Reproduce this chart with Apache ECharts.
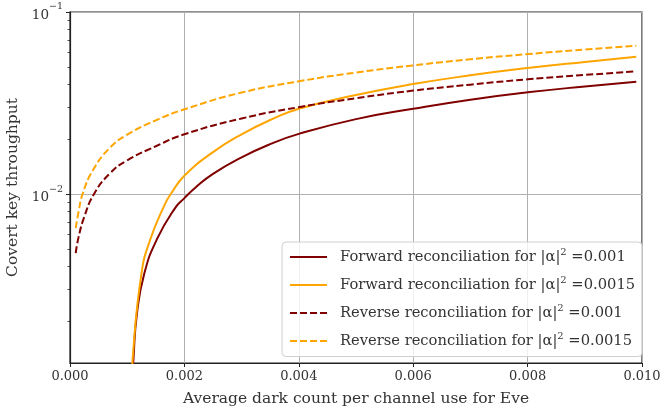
<!DOCTYPE html>
<html><head><meta charset="utf-8">
<script src="https://cdn.jsdelivr.net/npm/echarts@6/dist/echarts.min.js"></script>
<style>html,body{margin:0;padding:0;background:#fff}#c{width:661px;height:412px}</style>
</head><body><div id="c"></div>
<script>
// ---- data ----
const seriesNames = [
  'Forward reconciliation for |α|^2 =0.001',
  'Forward reconciliation for |α|^2 =0.0015',
  'Reverse reconciliation for |α|^2 =0.001',
  'Reverse reconciliation for |α|^2 =0.0015'
];
const legendPrefix = ['Forward reconciliation for |α|', 'Forward reconciliation for |α|', 'Reverse reconciliation for |α|', 'Reverse reconciliation for |α|'];
const legendSup = ['2', '2', '2', '2'];
const legendSuffix = [' =0.001', ' =0.0015', ' =0.001', ' =0.0015'];

const fwdLowX = [0.00109, 0.00111, 0.00117, 0.00130, 0.00152, 0.00184, 0.0020, 0.0022, 0.0025, 0.0030, 0.0035, 0.0040, 0.0050, 0.0060, 0.0070, 0.0080, 0.0090, 0.0099];
const fwdLowY = [0.0009, 0.00125, 0.0022, 0.00367, 0.00565, 0.0084, 0.0095, 0.0109, 0.0129, 0.0159, 0.0188, 0.0214, 0.0258, 0.0294, 0.0330, 0.0362, 0.0390, 0.0414];

const fwdHighX = [0.00108, 0.00110, 0.00125, 0.00140, 0.00166, 0.00177, 0.0020, 0.0025, 0.0030, 0.0035, 0.0040, 0.0050, 0.0060, 0.0070, 0.0080, 0.0090, 0.0099];
const fwdHighY = [0.0009, 0.0013, 0.00367, 0.00559, 0.0088, 0.0101, 0.0126, 0.0170, 0.0213, 0.0255, 0.0294, 0.0350, 0.0402, 0.0449, 0.0492, 0.0532, 0.0568];

const revLowX = [0.0001, 0.00015, 0.00025, 0.00042, 0.0007, 0.0010, 0.0015, 0.0020, 0.0030, 0.0040, 0.0050, 0.0060, 0.0070, 0.0080, 0.0090, 0.0099];
const revLowY = [0.00474, 0.0058, 0.0075, 0.0100, 0.0130, 0.0153, 0.0183, 0.0213, 0.0260, 0.0300, 0.0336, 0.0370, 0.0399, 0.0427, 0.0451, 0.0472];

const revHighX = [0.0001, 0.00015, 0.00022, 0.0004, 0.0007, 0.0010, 0.0015, 0.0020, 0.0030, 0.0040, 0.0050, 0.0060, 0.0070, 0.0080, 0.0090, 0.0099];
const revHighY = [0.0065, 0.0080, 0.0100, 0.0135, 0.0180, 0.0212, 0.0254, 0.0292, 0.0361, 0.0416, 0.0465, 0.0509, 0.0550, 0.0587, 0.0622, 0.0653];

const xTicks = [0, 0.002, 0.004, 0.006, 0.008, 0.010];
const yMajor = [0.01, 0.1];
const yMinor = [0.002, 0.003, 0.004, 0.005, 0.006, 0.007, 0.008, 0.009, 0.02, 0.03, 0.04, 0.05, 0.06, 0.07, 0.08, 0.09];
const yMin = 0.00118, yMax = 0.1;

// ---- chart ----
const FONT = 'DejaVu Serif';
const TXT = '#333';
const zip = (xs, ys) => xs.map((x, i) => [x, ys[i]]);
const colors = ['#800000', '#ffa500', '#800000', '#ffa500'];
const dashes = ['solid', 'solid', [7, 3], [7, 3]];
const dataSets = [zip(fwdLowX, fwdLowY), zip(fwdHighX, fwdHighY), zip(revLowX, revLowY), zip(revHighX, revHighY)];

const chart = echarts.init(document.getElementById('c'), null, {renderer: 'canvas'});
const supExp = v => {
  const e = Math.round(Math.log10(v));
  return '{b|10}{s|' + (e < 0 ? '\u2212' + (-e) : e) + '}';
};
chart.setOption({
  animation: false,
  backgroundColor: '#fff',
  grid: {left: 70, top: 12, width: 572, height: 351, show: true, borderColor: '#222', borderWidth: 1.2,
    backgroundColor: 'transparent', containLabel: false, outerBoundsMode: 'none'},
  xAxis: {
    type: 'value', min: 0, max: 0.01, interval: 0.002,
    name: 'Average dark count per channel use for Eve', nameLocation: 'middle', nameGap: 28,
    nameTextStyle: {fontFamily: FONT, fontSize: 15.5, color: TXT},
    axisLine: {show: true, lineStyle: {color: '#222', width: 1.2}},
    axisTick: {show: true, length: 4, lineStyle: {color: '#222', width: 1}},
    axisLabel: {fontFamily: FONT, fontSize: 13, color: TXT, margin: 7, formatter: v => v.toFixed(3), showMinLabel: true, showMaxLabel: true},
    splitLine: {show: true, lineStyle: {color: '#b0b0b0', width: 1}}
  },
  yAxis: [{
    type: 'log', min: yMin, max: yMax, logBase: 10,
    name: 'Covert key throughput', nameLocation: 'middle', nameGap: 42,
    nameTextStyle: {fontFamily: FONT, fontSize: 15.5, color: TXT},
    axisLine: {show: true, lineStyle: {color: '#222', width: 1.2}},
    axisTick: {show: true, length: 4, customValues: yMajor, lineStyle: {color: '#222', width: 1}},
    axisLabel: {customValues: yMajor, margin: 7, formatter: supExp, fontFamily: FONT, color: TXT,
      rich: {b: {fontFamily: FONT, fontSize: 13.5, color: TXT, lineHeight: 20, verticalAlign: 'bottom'}, s: {fontFamily: FONT, fontSize: 9.5, color: TXT, verticalAlign: 'top'}}},
    splitLine: {show: true, lineStyle: {color: '#b0b0b0', width: 1}}
  }, {
    type: 'log', min: yMin, max: yMax, logBase: 10, position: 'left', gridIndex: 0,
    axisLine: {show: false},
    axisTick: {show: true, length: 2.5, customValues: yMinor, lineStyle: {color: '#222', width: 0.8}},
    axisLabel: {show: false},
    splitLine: {show: false}
  }],
  legend: {
    orient: 'vertical', left: 282, top: 242,
    padding: [5, 7, 8, 7], itemGap: 10.5, itemWidth: 37, itemHeight: 14,
    backgroundColor: 'rgba(255,255,255,0.8)', borderColor: '#d0d0d0', borderWidth: 1, borderRadius: 4,
    itemStyle: {opacity: 0, color: 'rgba(0,0,0,0)', borderWidth: 0},
    data: seriesNames,
    formatter: name => {
      const i = seriesNames.indexOf(name);
      return '{a|' + legendPrefix[i] + '}{s|' + legendSup[i] + '}{c|' + legendSuffix[i] + '}';
    },
    textStyle: {fontFamily: FONT, fontSize: 14.7, color: TXT,
      rich: {
        a: {fontFamily: FONT, fontSize: 14.7, color: TXT, lineHeight: 20, padding: [0, 0, 0, 8]},
        s: {fontFamily: FONT, fontSize: 10, color: TXT, verticalAlign: 'top'},
        c: {fontFamily: FONT, fontSize: 14.7, color: TXT, lineHeight: 20}
      }}
  },
  series: dataSets.map((d, i) => ({
    name: seriesNames[i], type: 'line', data: d, yAxisIndex: 0,
    symbol: 'none', showSymbol: false, smooth: 0.5, clip: true,
    lineStyle: {color: colors[i], width: 2, type: dashes[i]},
    itemStyle: {color: colors[i]}
  }))
});
</script></body></html>
